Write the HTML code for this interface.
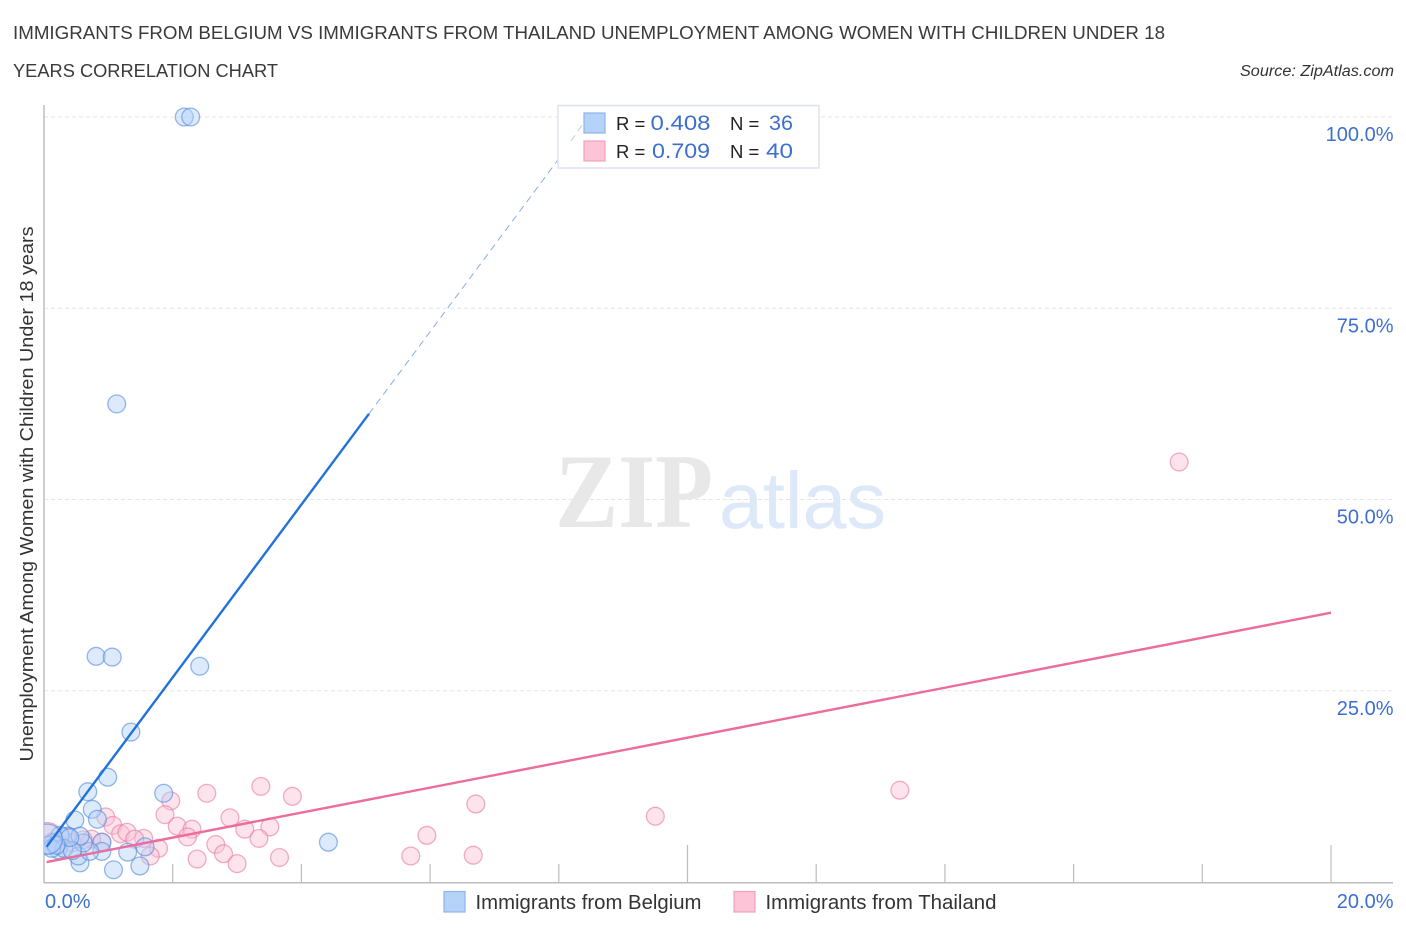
<!DOCTYPE html>
<html lang="en">
<head>
<meta charset="utf-8">
<title>Immigrants from Belgium vs Immigrants from Thailand Correlation Chart</title>
<style>
html,body{margin:0;padding:0;background:#fff;width:1406px;height:930px;overflow:hidden}
svg{display:block;font-family:"Liberation Sans",sans-serif}
</style>
</head>
<body>
<svg id="chart" xmlns="http://www.w3.org/2000/svg" width="1406" height="930" viewBox="0 0 1406 930">
  <defs><clipPath id="plot-clip"><rect x="44" y="100" width="1349" height="782"/></clipPath></defs>
  <rect width="1406" height="930" fill="#fff"/>

  <text x="13" y="39" font-size="18.5" fill="#3a3a3a" textLength="1152" lengthAdjust="spacingAndGlyphs">IMMIGRANTS FROM BELGIUM VS IMMIGRANTS FROM THAILAND UNEMPLOYMENT AMONG WOMEN WITH CHILDREN UNDER 18</text>
  <text x="13" y="77" font-size="18.5" fill="#3a3a3a" textLength="265" lengthAdjust="spacingAndGlyphs">YEARS CORRELATION CHART</text>
  <text x="1394" y="76" font-size="15.5" font-style="italic" fill="#333" text-anchor="end" textLength="154" lengthAdjust="spacingAndGlyphs">Source: ZipAtlas.com</text>

  <text x="555" y="527" font-family="'Liberation Serif',serif" font-weight="bold" font-size="106" fill="#e8e8e8" textLength="158" lengthAdjust="spacingAndGlyphs">ZIP</text>
  <text x="719" y="528" font-size="80" fill="#dde9f9" textLength="167" lengthAdjust="spacingAndGlyphs">atlas</text>

  <g id="grid-layer"></g>
  <g id="axis-layer">
    <line x1="44" y1="105" x2="44" y2="883" stroke="#bdbdbd" stroke-width="1.5"/>
    <line x1="44" y1="882.7" x2="1393" y2="882.7" stroke="#bdbdbd" stroke-width="1.5"/>
  </g>

  <g id="points-layer" clip-path="url(#plot-clip)"></g>
  <g id="trend-layer"></g>
  <g id="label-layer"></g>

  <text transform="translate(33,494) rotate(-90)" font-size="18.5" fill="#333" text-anchor="middle" textLength="535" lengthAdjust="spacingAndGlyphs">Unemployment Among Women with Children Under 18 years</text>

  <g>
    <rect x="558" y="105.5" width="261" height="62.5" fill="#fff" stroke="#dfe3e8" stroke-width="1.5"/>
    <line x1="571" y1="141" x2="587" y2="118" stroke="#1f6fd8" stroke-width="1" stroke-dasharray="7 5" opacity="0.35"/>
    <rect x="584" y="113" width="21" height="20" fill="#b5d2f8" stroke="#8fb5ea" stroke-width="1.2"/>
    <rect x="584" y="141" width="21" height="20" fill="#fcc4d6" stroke="#f3a0bc" stroke-width="1.2"/>
    <text x="616" y="130" font-size="18.5" fill="#222">R =</text>
    <text x="650.5" y="130" font-size="21" fill="#3d6fd0" textLength="60" lengthAdjust="spacingAndGlyphs">0.408</text>
    <text x="730" y="130" font-size="18.5" fill="#222">N =</text>
    <text x="769" y="130" font-size="21" fill="#3d6fd0" textLength="24" lengthAdjust="spacingAndGlyphs">36</text>
    <text x="616" y="158" font-size="18.5" fill="#222">R =</text>
    <text x="652" y="158" font-size="21" fill="#3d6fd0" textLength="58" lengthAdjust="spacingAndGlyphs">0.709</text>
    <text x="730" y="158" font-size="18.5" fill="#222">N =</text>
    <text x="766" y="158" font-size="21" fill="#3d6fd0" textLength="27" lengthAdjust="spacingAndGlyphs">40</text>
  </g>

  <g>
    <rect x="444" y="891.5" width="21" height="20.5" fill="#b5d2f8" stroke="#8fb5ea" stroke-width="1.2"/>
    <text x="475.5" y="909" font-size="20" fill="#333" textLength="226" lengthAdjust="spacingAndGlyphs">Immigrants from Belgium</text>
    <rect x="734" y="891.5" width="21" height="20.5" fill="#fcc4d6" stroke="#f3a0bc" stroke-width="1.2"/>
    <text x="765.5" y="909" font-size="20" fill="#333" textLength="231" lengthAdjust="spacingAndGlyphs">Immigrants from Thailand</text>
  </g>
</svg>
<script>
const yTickValues = [25, 50, 75, 100];
const yTickLabels = ['25.0%', '50.0%', '75.0%', '100.0%'];
const xTickValues = [2, 4, 6, 8, 10, 12, 14, 16, 18, 20];
const xMajorTicks = [10, 20];
const xEndValues = [0, 20];
const xEndLabels = ['0.0%', '20.0%'];

const belgiumX = [2.18,2.28,1.13,0.81,1.06,2.42,1.35,0.99,0.68,1.86,0.75,0.48,0.83,4.42,1.30,1.57,1.49,1.08,0.56,0.53,0.90,0.90,0.71,0.61,0.37,0.25,0.56,0.14,0.22,0.06,0.31,0.44,0.12,0.40,0.19,0.05];
const belgiumY = [100,100,62.5,29.5,29.4,28.2,19.6,13.7,11.8,11.6,9.5,8.1,8.2,5.2,3.9,4.6,2.1,1.6,2.5,3.4,5.2,4.0,4.0,5.1,6.0,6.1,6.0,5.1,4.2,4.8,4.4,4.1,4.4,5.8,4.8,5.6];
const belgiumWeight = [1,1,1,1,1,1,1,1,1,1,1,1,1,1,1,1,1,1,1,1,1,1,1,1,1,1,1,1,1,1,1,1,1,1,1,2];

const thailandX = [17.64,13.30,9.50,6.71,5.95,5.70,6.67,3.37,3.86,2.53,1.97,1.88,2.89,2.07,2.30,2.23,3.12,3.51,3.34,2.67,2.79,2.38,3.00,3.66,1.78,1.65,1.55,0.96,1.07,1.19,1.29,1.41,0.90,0.74,0.61,0.35,0.14,0.05,0.25,0.44];
const thailandY = [54.9,12.0,8.6,10.2,6.1,3.4,3.5,12.5,11.2,11.6,10.6,8.8,8.4,7.3,6.9,5.9,6.9,7.2,5.7,4.9,3.7,3.0,2.4,3.2,4.4,3.4,5.7,8.5,7.4,6.3,6.5,5.6,5.2,5.6,5.5,5.9,5.3,5.8,4.8,5.1];
const thailandWeight = [1,1,1,1,1,1,1,1,1,1,1,1,1,1,1,1,1,1,1,1,1,1,1,1,1,1,1,1,1,1,1,1,1,1,1,1,1,2,1,1];

const belgiumTrendX = [0.04, 5.05];
const belgiumTrendY = [4.6, 61.2];
const belgiumDashX = [5.05, 8.2];
const belgiumDashY = [61.2, 96.8];
const thailandTrendX = [0.04, 20];
const thailandTrendY = [2.6, 35.2];

const svgNS = 'http://www.w3.org/2000/svg';
function xScale(v) { return 44 + v * 64.35; }
function yScale(v) { return 882 - v * 7.65; }
function make(tag, attrs, parent) {
  const el = document.createElementNS(svgNS, tag);
  for (const k in attrs) el.setAttribute(k, attrs[k]);
  parent.appendChild(el);
  return el;
}
const gridLayer = document.getElementById('grid-layer');
const axisLayer = document.getElementById('axis-layer');
const pointsLayer = document.getElementById('points-layer');
const trendLayer = document.getElementById('trend-layer');
const labelLayer = document.getElementById('label-layer');

yTickValues.forEach(function (v, i) {
  const y = yScale(v);
  const line = make('line', {x1: 44, y1: y, x2: 1393, y2: y, stroke: '#e6e6e6', 'stroke-width': 1, 'stroke-dasharray': '4 3'}, gridLayer);
  
  
  const label = make('text', {x: 1393.5, y: y + 24, 'font-size': 20, fill: '#3d6fd0', 'text-anchor': 'end'}, labelLayer);
  label.textContent = yTickLabels[i];
  
  
});

xTickValues.forEach(function (v) {
  const x = xScale(v);
  const h = xMajorTicks.indexOf(v) >= 0 ? 37 : 18;
  const tick = make('line', {x1: x, y1: 882, x2: x, y2: 882 - h, stroke: '#bdbdbd', 'stroke-width': 1.2}, axisLayer);
  
  
});

xEndValues.forEach(function (v, i) {
  const label = make('text', {x: i === 0 ? xScale(v) + 1 : 1393.5, y: 908, 'font-size': 20, fill: '#3d6fd0', 'text-anchor': i === 0 ? 'start' : 'end'}, labelLayer);
  label.textContent = xEndLabels[i];
  
  
});

function drawSeries(xs, ys, weights, fill, stroke, seriesName) {
  xs.forEach(function (v, i) {
    const c = make('circle', {cx: xScale(v), cy: yScale(ys[i]), r: 8.9 * Math.sqrt(weights[i]) * (weights[i] > 1 ? 1.2 : 1), fill: fill, 'fill-opacity': 0.46, stroke: stroke, 'stroke-opacity': 0.6, 'stroke-width': 1.3}, pointsLayer);
    
    
  });
}
drawSeries(thailandX, thailandY, thailandWeight, '#f9c3d5', '#e9789f', 'thailand-point');
drawSeries(belgiumX, belgiumY, belgiumWeight, '#b5d2f8', '#4f88da', 'belgium-point');

const dash = make('line', {x1: xScale(belgiumDashX[0]), y1: yScale(belgiumDashY[0]), x2: xScale(belgiumDashX[1]), y2: yScale(belgiumDashY[1]), stroke: '#1f6fd8', 'stroke-width': 1, 'stroke-dasharray': '7 5', opacity: 0.55}, trendLayer);



const blueLine = make('line', {x1: xScale(belgiumTrendX[0]), y1: yScale(belgiumTrendY[0]), x2: xScale(belgiumTrendX[1]), y2: yScale(belgiumTrendY[1]), stroke: '#2272dc', 'stroke-width': 2.4}, trendLayer);



const pinkLine = make('line', {x1: xScale(thailandTrendX[0]), y1: yScale(thailandTrendY[0]), x2: xScale(thailandTrendX[1]), y2: yScale(thailandTrendY[1]), stroke: '#ec6c9b', 'stroke-width': 2.4}, trendLayer);


</script>
</body>
</html>
